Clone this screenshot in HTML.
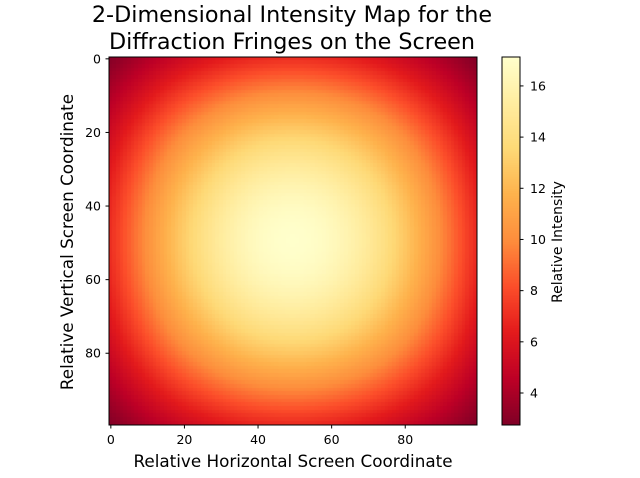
<!DOCTYPE html>
<html><head><meta charset="utf-8"><style>
body{margin:0;background:#fff;width:640px;height:478px;overflow:hidden;position:relative;font-family:"DejaVu Sans","Liberation Sans",sans-serif}
canvas{position:absolute}
svg{position:absolute;left:0;top:0;font-family:"DejaVu Sans","Liberation Sans",sans-serif}
</style></head><body>
<canvas id="hm" width="368" height="368" style="left:109px;top:57px"></canvas>
<canvas id="cb" width="18" height="368" style="left:502px;top:57px"></canvas>
<svg id="s" width="640" height="478"></svg>
<script>
// half profile of relative amplitude (rows/columns 0..49), mirrored for 50..99
const halfProfile=[0.411,0.4295,0.448,0.4668,0.485,0.5033,0.5216,0.5398,0.5578,0.5758,0.5936,0.611,0.6284,0.6457,0.6626,0.6793,0.6958,0.712,0.7279,0.7434,0.7586,0.7735,0.788,0.8025,0.8161,0.8297,0.8421,0.8551,0.8672,0.8788,0.8898,0.9003,0.9107,0.9203,0.9294,0.9382,0.9462,0.9538,0.9609,0.9672,0.9732,0.9787,0.9833,0.9873,0.991,0.9937,0.9963,0.9981,0.9993,0.9999];
const peakIntensity=17.1;
const xTicks=[0,20,40,60,80];
const yTicks=[0,20,40,60,80];
const cbTicks=[4,6,8,10,12,14,16];
const vmin=2.75, vmax=17.13;

const profile=halfProfile.concat(halfProfile.slice().reverse());
const N=profile.length;
const stops=["#800026","#bd0026","#e31a1c","#fc4e2a","#fd8d3c","#feb24c","#fed976","#ffeda0","#ffffcc"];
function hex(h){return [1,3,5].map(i=>parseInt(h.substr(i,2),16));}
const S=stops.map(hex);
function color(v){let t=(v-vmin)/(vmax-vmin);t=Math.max(0,Math.min(1,t));const p=t*(S.length-1);const i=Math.min(Math.floor(p),S.length-2);const f=p-i;const c=S[i].map((a,k)=>Math.round(a+(S[i+1][k]-a)*f));return `rgb(${c[0]},${c[1]},${c[2]})`;}

const X0=109,Y0=57,W=368,cell=W/N;
function xs(i){return X0+(i+0.5)*cell;}
function ys(i){return Y0+(i+0.5)*cell;}
const ctx=document.getElementById('hm').getContext('2d');
for(let r=0;r<N;r++)for(let c=0;c<N;c++){ctx.fillStyle=color(peakIntensity*profile[r]*profile[c]);ctx.fillRect(Math.floor(c*cell),Math.floor(r*cell),Math.ceil(cell)+1,Math.ceil(cell)+1);}
const cbx=document.getElementById('cb').getContext('2d');
for(let y=0;y<368;y++){cbx.fillStyle=color(vmax-(y+0.5)/368*(vmax-vmin));cbx.fillRect(0,y,18,1);}
function cby(v){return 57+(vmax-v)/(vmax-vmin)*368;}

const s=document.getElementById('s');const NS='http://www.w3.org/2000/svg';
function el(t,a,txt){const e=document.createElementNS(NS,t);for(const k in a)e.setAttribute(k,a[k]);if(txt!==undefined)e.textContent=txt;s.appendChild(e);return e;}
let e;
e=el('rect',{x:109,y:57,width:368,height:368,fill:'none',stroke:'#000','stroke-width':1});


e=el('rect',{x:502,y:57,width:18,height:368,fill:'none',stroke:'#000','stroke-width':1});


xTicks.forEach(t=>{const x=xs(t);
e=el('line',{x1:x,x2:x,y1:425,y2:428.5,stroke:'#000'});


e=el('text',{x:x,y:444,'font-size':12.5,'text-anchor':'middle',fill:'#000'},t);

});
yTicks.forEach(t=>{const y=ys(t);
e=el('line',{x1:105.5,x2:109,y1:y,y2:y,stroke:'#000'});


e=el('text',{x:101,y:y+4.5,'font-size':12.5,'text-anchor':'end',fill:'#000'},t);

});
cbTicks.forEach(t=>{const y=cby(t);
e=el('line',{x1:520,x2:523.5,y1:y,y2:y,stroke:'#000'});


e=el('text',{x:530,y:y+4.5,'font-size':12.5,fill:'#000'},t);

});
e=el('text',{x:292,y:22,'font-size':22.3,'text-anchor':'middle',fill:'#000'},'2-Dimensional Intensity Map for the');


e=el('text',{x:292,y:49,'font-size':22.3,'text-anchor':'middle',fill:'#000'},'Diffraction Fringes on the Screen');


e=el('text',{x:293,y:467,'font-size':16.8,'text-anchor':'middle',fill:'#000'},'Relative Horizontal Screen Coordinate');


e=el('text',{x:0,y:0,'font-size':16.8,'text-anchor':'middle',fill:'#000',transform:'translate(73,242) rotate(-90)'},'Relative Vertical Screen Coordinate');


e=el('text',{x:0,y:0,'font-size':14,'text-anchor':'middle',fill:'#000',transform:'translate(562,242) rotate(-90)'},'Relative Intensity');


</script>
</body></html>
